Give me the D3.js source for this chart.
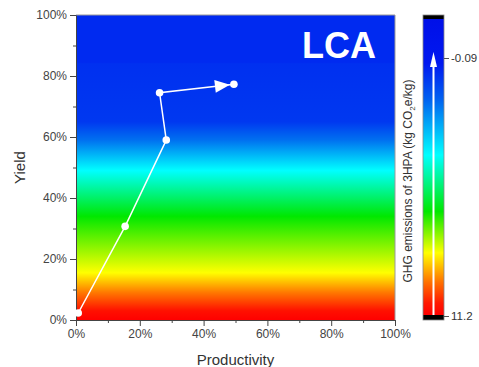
<!DOCTYPE html>
<html><head><meta charset="utf-8">
<script src="https://cdn.jsdelivr.net/npm/d3@7"></script>
<style>body{margin:0;background:#fff;} text{font-family:"Liberation Sans",Arial,sans-serif;}</style>
</head><body><svg id="c" width="479" height="367"></svg>
<script>
// data
const productivity = [0.007, 0.154, 0.283, 0.262, 0.495];
const yieldVals    = [0.023, 0.307, 0.590, 0.745, 0.773];
const tickValues = [0, 0.2, 0.4, 0.6, 0.8, 1.0];
const minorTicks = [0.1, 0.3, 0.5, 0.7, 0.9];
const colorbarTicks = [-0.09, 11.2];
const gradientStops = [
  {t:0, c:"#ff0000"}, {t:0.03, c:"#ff1000"}, {t:0.09, c:"#ff7800"},
  {t:0.155, c:"#ffff00"}, {t:0.34, c:"#00e800"}, {t:0.49, c:"#00ffff"},
  {t:0.59, c:"#0070f0"}, {t:0.65, c:"#0038f0"}, {t:0.84, c:"#0030f0"}, {t:0.845, c:"#002af0"}, {t:1, c:"#002af0"}
];
const cbStops = [
  {t:0, c:"#ff0000"}, {t:0.04, c:"#ff1800"}, {t:0.11, c:"#ff7000"},
  {t:0.21, c:"#ffff00"}, {t:0.35, c:"#00e800"}, {t:0.54, c:"#00ffff"},
  {t:0.73, c:"#0060f0"}, {t:0.85, c:"#0018f0"}, {t:1, c:"#0010e8"}
];

const svg = d3.select("#c");
const L=76, R=395, T=15, B=320;
const x = d3.scaleLinear().domain([0,1]).range([L,R]);
const y = d3.scaleLinear().domain([0,1]).range([B,T]);

const defs = svg.append("defs");
const g1 = defs.append("linearGradient").attr("id","bg").attr("x1",0).attr("y1",1).attr("x2",0).attr("y2",0);
gradientStops.forEach(s=>g1.append("stop").attr("offset",s.t).attr("stop-color",s.c));
const g2 = defs.append("linearGradient").attr("id","cb").attr("x1",0).attr("y1",1).attr("x2",0).attr("y2",0);
cbStops.forEach(s=>g2.append("stop").attr("offset",s.t).attr("stop-color",s.c));

svg.append("rect").attr("x",L).attr("y",T).attr("width",R-L).attr("height",B-T).attr("fill","url(#bg)");
svg.append("path").attr("d",`M${L},${T}H${R}V${B}`).attr("fill","none").attr("stroke","#999").attr("stroke-width",1);

const fmt = d3.format(".0%");
svg.append("g").attr("transform",`translate(0,${B})`)
  .call(d3.axisBottom(x).tickValues(tickValues).tickFormat(fmt).tickSize(6).tickSizeOuter(0).tickPadding(3));
svg.append("g").attr("transform",`translate(${L},0)`)
  .call(d3.axisLeft(y).tickValues(tickValues).tickFormat(fmt).tickSize(6).tickSizeOuter(0).tickPadding(3));
svg.append("g").attr("transform",`translate(0,${B})`)
  .call(d3.axisBottom(x).tickValues(minorTicks).tickFormat("").tickSize(3).tickSizeOuter(0)).select(".domain").remove();
svg.append("g").attr("transform",`translate(${L},0)`)
  .call(d3.axisLeft(y).tickValues(minorTicks).tickFormat("").tickSize(3).tickSizeOuter(0)).select(".domain").remove();
svg.selectAll(".domain").attr("stroke","#444");
svg.selectAll(".tick line").attr("stroke","#444");
svg.selectAll(".tick text").attr("font-size",12).attr("fill","#444").attr("font-family","Liberation Sans, Arial, sans-serif");

svg.append("text").attr("x",(L+R)/2).attr("y",365).attr("text-anchor","middle").attr("font-size",15).attr("fill","#333").text("Productivity");
svg.append("text").attr("transform",`translate(25,${(T+B)/2}) rotate(-90)`).attr("text-anchor","middle").attr("font-size",15).attr("fill","#333").text("Yield");

const pts = productivity.map((p,i)=>[x(p), y(yieldVals[i])]);
svg.append("path").attr("d",d3.line()(pts)).attr("fill","none").attr("stroke","#fff").attr("stroke-width",1.5);
const a = pts[pts.length-2], b = pts[pts.length-1];
const ang = Math.atan2(b[1]-a[1], b[0]-a[0]);
const tipBack = 4, len = 15, hw = 6.5;
const tip = [b[0]-tipBack*Math.cos(ang), b[1]-tipBack*Math.sin(ang)];
const base = [tip[0]-len*Math.cos(ang), tip[1]-len*Math.sin(ang)];
const p1 = [base[0]+hw*Math.sin(ang), base[1]-hw*Math.cos(ang)];
const p2 = [base[0]-hw*Math.sin(ang), base[1]+hw*Math.cos(ang)];
svg.append("path").attr("d",`M${tip}L${p1}L${p2}Z`).attr("fill","#fff");
svg.selectAll("circle.pt").data(pts).join("circle").attr("class","pt")
  .attr("cx",d=>d[0]).attr("cy",d=>d[1]).attr("r",3.8).attr("fill","#fff");

svg.append("text").attr("x",339).attr("y",58).attr("text-anchor","middle").attr("font-size",36).attr("font-weight","bold").attr("fill","#fff").text("LCA");

const cbL=423, cbW=21, cbT=15, cbB=320;
const cy = d3.scaleLinear().domain([11.2,-0.09]).range([316,58]);
svg.append("rect").attr("x",cbL).attr("y",cbT).attr("width",cbW).attr("height",cbB-cbT).attr("fill","#000");
svg.append("rect").attr("x",cbL).attr("y",19).attr("width",cbW).attr("height",296).attr("fill","url(#cb)");
svg.append("rect").attr("x",cbL).attr("y",cbT).attr("width",cbW).attr("height",cbB-cbT).attr("fill","none").attr("stroke","#888").attr("stroke-width",0.8);
const cbx = cbL+cbW/2;
svg.append("line").attr("x1",cbx).attr("x2",cbx).attr("y1",cy(11.2)-1).attr("y2",66).attr("stroke","#fff").attr("stroke-width",2);
svg.append("path").attr("d",`M${cbx},52L${cbx-3.5},67L${cbx+3.5},67Z`).attr("fill","#fff");
const cbAxis = svg.append("g").attr("transform",`translate(${cbL+cbW},0)`)
  .call(d3.axisRight(cy).tickValues(colorbarTicks).tickFormat(d=>String(d)).tickSize(5).tickPadding(2));
cbAxis.select(".domain").remove();
cbAxis.selectAll("line").attr("stroke","#555");
cbAxis.selectAll("text").attr("font-size",11.5).attr("fill","#333").attr("font-family","Liberation Sans, Arial, sans-serif");

const lab = svg.append("text").attr("transform",`translate(412,181) rotate(-90)`).attr("text-anchor","middle").attr("font-size",12).attr("fill","#333");
lab.append("tspan").text("GHG emissions of 3HPA (kg CO");
lab.append("tspan").attr("font-size",8).attr("dy",3).text("2");
lab.append("tspan").attr("dy",-3).text("e/kg)");
</script></body></html>
